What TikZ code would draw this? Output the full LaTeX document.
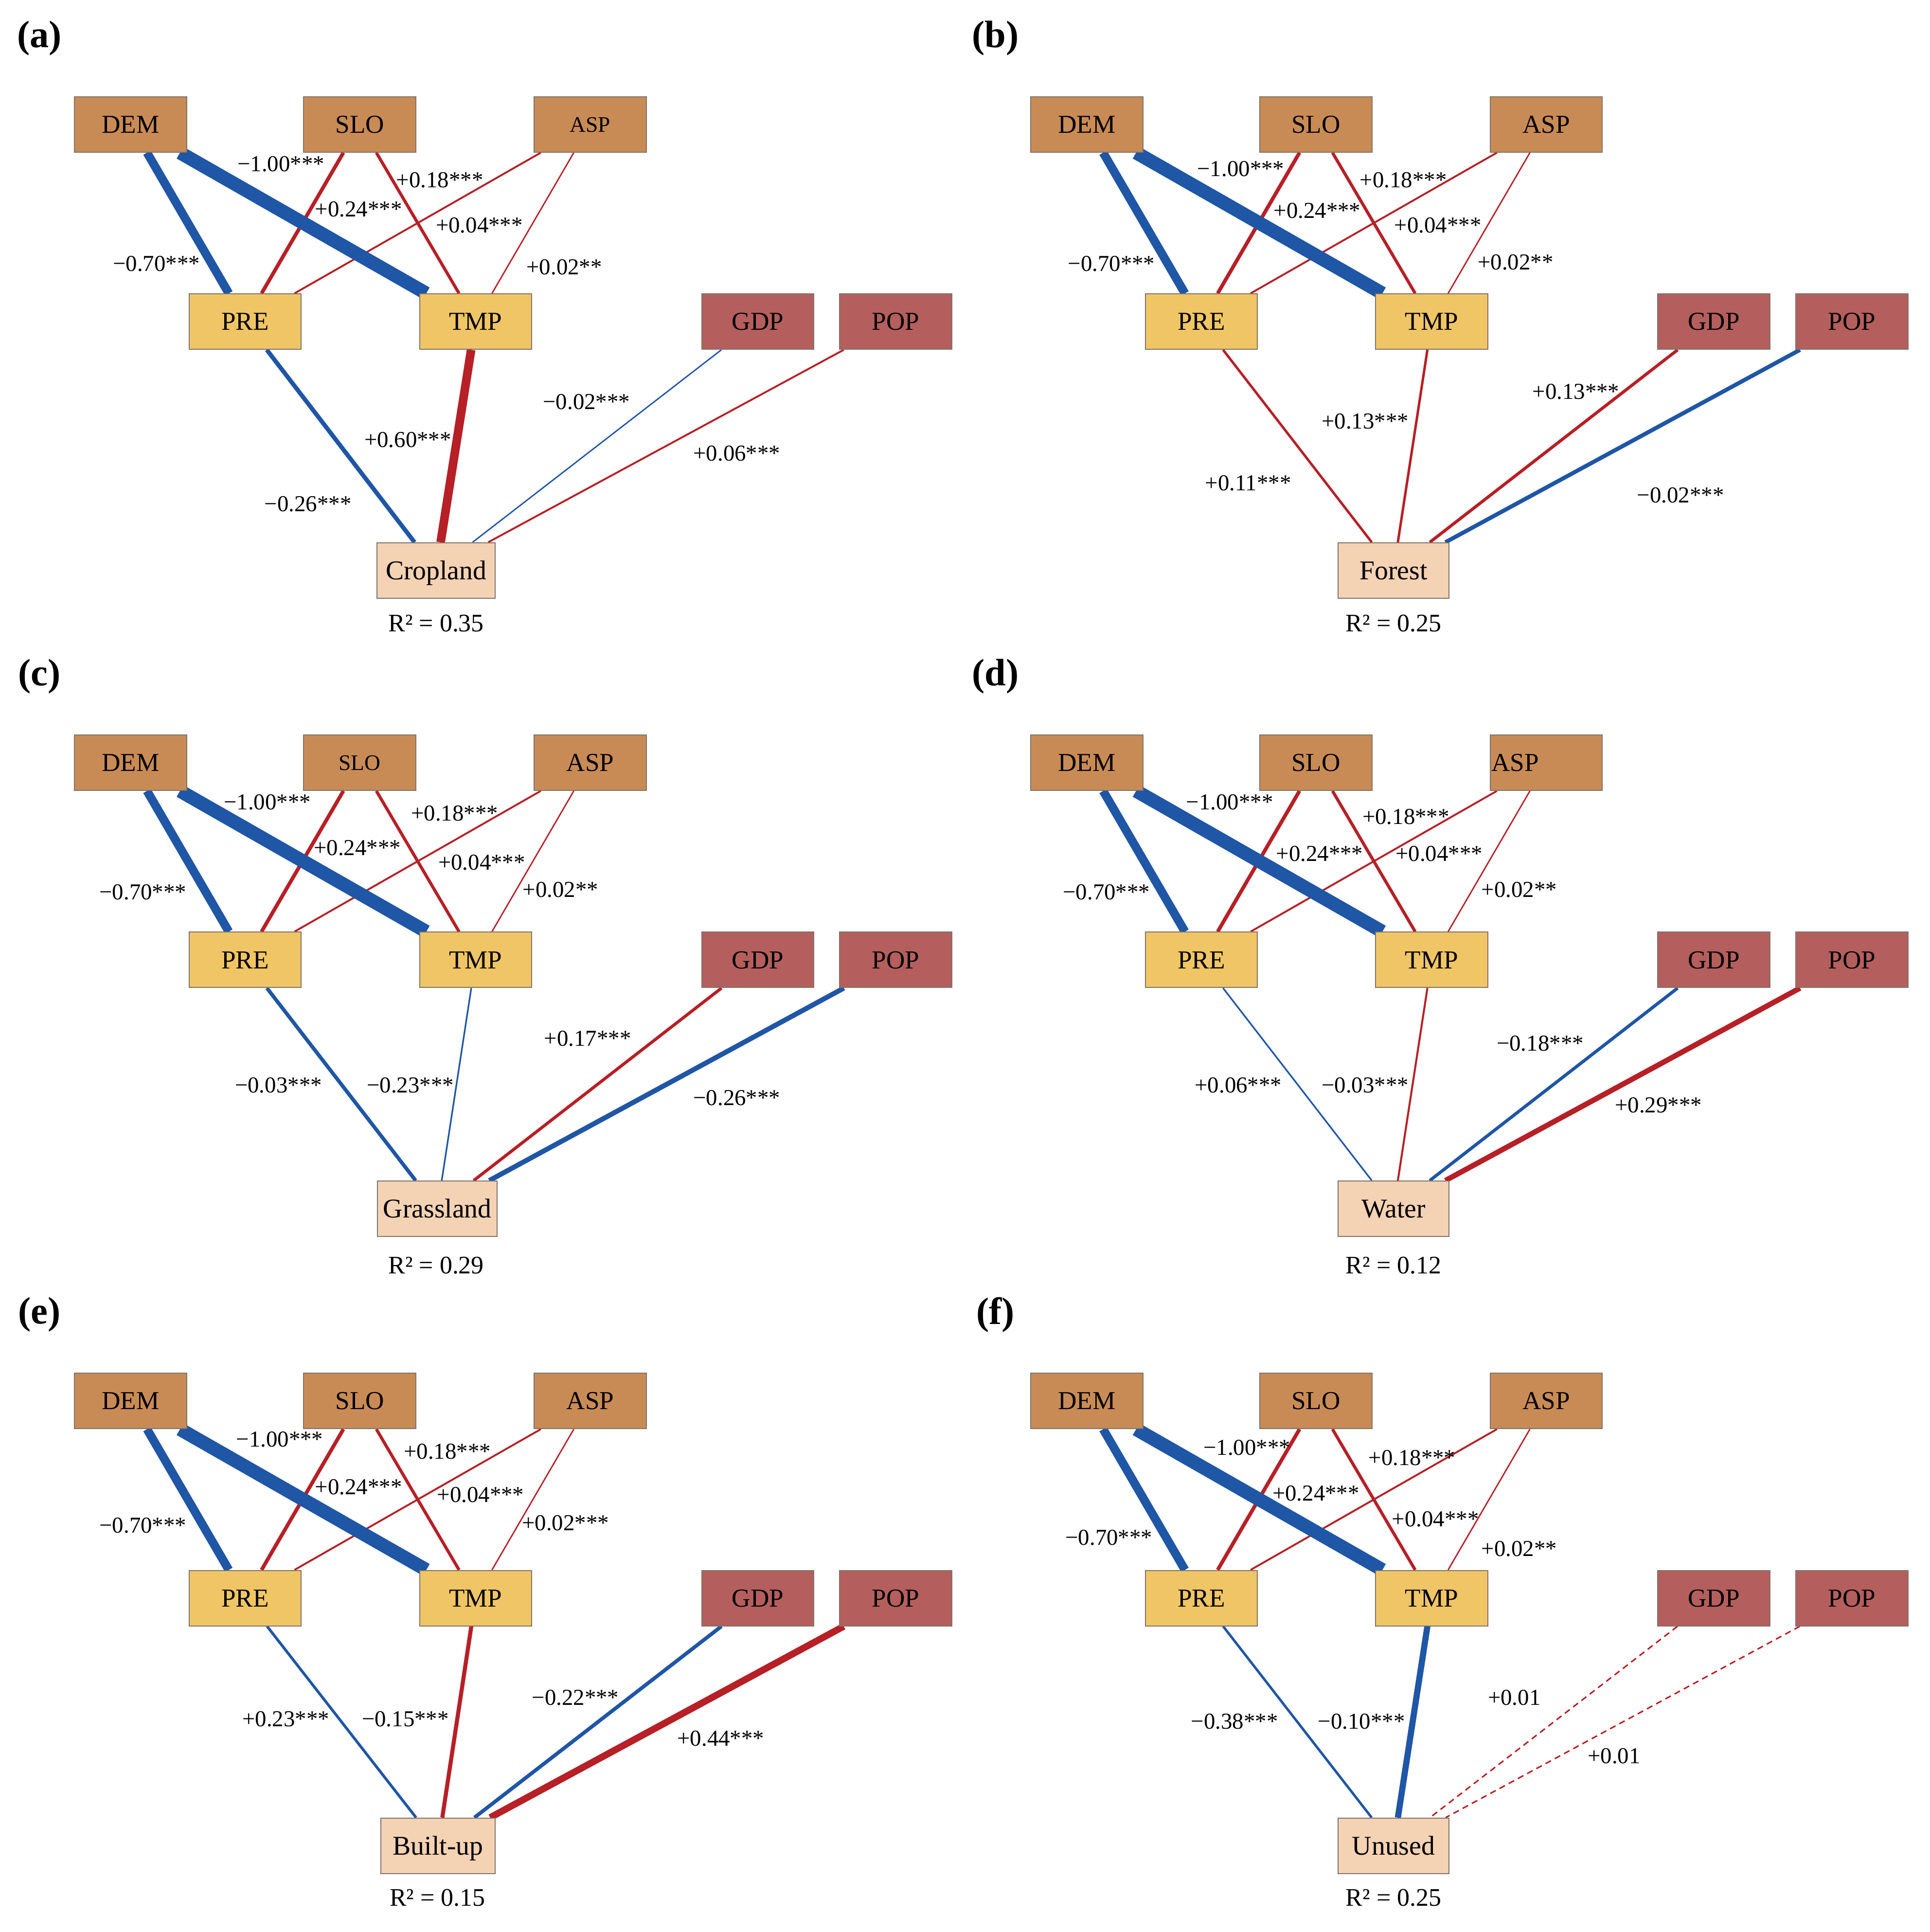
\documentclass[tikz,border=0pt]{standalone}
\usepackage{fontspec}
\setmainfont{Liberation Serif}
\usetikzlibrary{backgrounds}
\definecolor{cbrown}{RGB}{201,139,85}
\definecolor{cyellow}{RGB}{240,197,102}
\definecolor{cred}{RGB}{180,95,93}
\definecolor{cpeach}{RGB}{244,210,180}
\definecolor{boxline}{RGB}{125,115,105}
\definecolor{cblue}{RGB}{31,86,165}
\definecolor{cdred}{RGB}{182,32,38}
\begin{document}
\begin{tikzpicture}[x=1pt,y=-1pt,
  topbox/.style={rectangle, draw=boxline, line width=0.8pt, minimum width=91pt, minimum height=45pt, inner sep=0pt, text height=14pt, text depth=0pt, font=\fontsize{21}{24}\selectfont},
  brownbox/.style={topbox, fill=cbrown},
  yellowbox/.style={topbox, fill=cyellow},
  redbox/.style={topbox, fill=cred},
  targetbox/.style={topbox, fill=cpeach, text height=14.6pt, font=\fontsize{22}{25}\selectfont},
  smallfont/.style={text height=12pt, font=\fontsize{18}{20}\selectfont},
  coef/.style={font=\fontsize{18.5}{20}\selectfont, inner sep=0pt},
  rsq/.style={font=\fontsize{20.5}{22}\selectfont, inner sep=0pt},
  plabel/.style={font=\fontsize{31}{34}\selectfont\bfseries, inner sep=0pt},
  neglink/.style={draw=cblue},
  poslink/.style={draw=cdred},
  insiglink/.style={draw=cdred, dash pattern=on 5pt off 3.5pt}
]
\useasboundingbox (0,0) rectangle (1566.4,1568);

% ---------------- (a)
\begin{scope}
\node[plabel] (alab) at (32,31) {(a)};
\node[brownbox] (aDEM) at (106,101) {DEM};
\node[brownbox] (aSLO) at (292,101) {SLO};
\node[brownbox, smallfont] (aASP) at (479,101) {ASP};
\node[yellowbox] (aPRE) at (199,261) {PRE};
\node[yellowbox] (aTMP) at (386,261) {TMP};
\node[redbox] (aGDP) at (615,261) {GDP};
\node[redbox] (aPOP) at (727,261) {POP};
\node[targetbox, minimum width=96pt] (aLU) at (354,463) {Cropland};
\node[rsq] (aR) at (354,506) {R² = 0.35};
\begin{pgfonlayer}{background}
\draw[poslink, line width=1.5pt] (aASP) -- (aPRE);
\draw[poslink, line width=1.1pt] (aASP) -- (aTMP);
\draw[poslink, line width=3pt] (aSLO) -- (aPRE);
\draw[poslink, line width=2.5pt] (aSLO) -- (aTMP);
\draw[neglink, line width=7pt] (aDEM) -- (aPRE);
\draw[neglink, line width=11pt] (aDEM) -- (aTMP);
\draw[neglink, line width=3.5pt] (aPRE) -- (aLU);
\draw[poslink, line width=7pt] (aTMP) -- (aLU);
\draw[neglink, line width=1.1pt] (aGDP) -- (aLU);
\draw[poslink, line width=1.5pt] (aPOP) -- (aLU);
\end{pgfonlayer}
\node[coef] (a1) at (127,214) {−0.70***};
\node[coef] (a2) at (228,133) {−1.00***};
\node[coef] (a3) at (291,170) {+0.24***};
\node[coef] (a4) at (357,146) {+0.18***};
\node[coef] (a5) at (389,183) {+0.04***};
\node[coef] (a6) at (458,217) {+0.02**};
\node[coef] (a7) at (250,409) {−0.26***};
\node[coef] (a8) at (331,357) {+0.60***};
\node[coef] (a9) at (476,326) {−0.02***};
\node[coef] (a10) at (598,368) {+0.06***};
\end{scope}

% ---------------- (b)
\begin{scope}[shift={(776,0)}]
\node[plabel] (blab) at (32,31) {(b)};
\node[brownbox] (bDEM) at (106,101) {DEM};
\node[brownbox] (bSLO) at (292,101) {SLO};
\node[brownbox] (bASP) at (479,101) {ASP};
\node[yellowbox] (bPRE) at (199,261) {PRE};
\node[yellowbox] (bTMP) at (386,261) {TMP};
\node[redbox] (bGDP) at (615,261) {GDP};
\node[redbox] (bPOP) at (727,261) {POP};
\node[targetbox, minimum width=90pt] (bLU) at (355,463) {Forest};
\node[rsq] (bR) at (355,506) {R² = 0.25};
\begin{pgfonlayer}{background}
\draw[poslink, line width=1.5pt] (bASP) -- (bPRE);
\draw[poslink, line width=1.1pt] (bASP) -- (bTMP);
\draw[poslink, line width=3pt] (bSLO) -- (bPRE);
\draw[poslink, line width=2.5pt] (bSLO) -- (bTMP);
\draw[neglink, line width=7pt] (bDEM) -- (bPRE);
\draw[neglink, line width=11pt] (bDEM) -- (bTMP);
\draw[poslink, line width=2pt] (bPRE) -- (bLU);
\draw[poslink, line width=2pt] (bTMP) -- (bLU);
\draw[poslink, line width=2.5pt] (bGDP) -- (bLU);
\draw[neglink, line width=3.3pt] (bPOP) -- (bLU);
\end{pgfonlayer}
\node[coef] (b1) at (126,214) {−0.70***};
\node[coef] (b2) at (231,137) {−1.00***};
\node[coef] (b3) at (293,171) {+0.24***};
\node[coef] (b4) at (363,146) {+0.18***};
\node[coef] (b5) at (391,183) {+0.04***};
\node[coef] (b6) at (454,213) {+0.02**};
\node[coef] (b7) at (237,392) {+0.11***};
\node[coef] (b8) at (332,342) {+0.13***};
\node[coef] (b9) at (503,318) {+0.13***};
\node[coef] (b10) at (588,402) {−0.02***};
\end{scope}

% ---------------- (c)
\begin{scope}[shift={(0,518)}]
\node[plabel] (clab) at (32,31) {(c)};
\node[brownbox] (cDEM) at (106,101) {DEM};
\node[brownbox, smallfont] (cSLO) at (292,101) {SLO};
\node[brownbox] (cASP) at (479,101) {ASP};
\node[yellowbox] (cPRE) at (199,261) {PRE};
\node[yellowbox] (cTMP) at (386,261) {TMP};
\node[redbox] (cGDP) at (615,261) {GDP};
\node[redbox] (cPOP) at (727,261) {POP};
\node[targetbox, minimum width=97pt] (cLU) at (355,463) {Grassland};
\node[rsq] (cR) at (354,509) {R² = 0.29};
\begin{pgfonlayer}{background}
\draw[poslink, line width=1.5pt] (cASP) -- (cPRE);
\draw[poslink, line width=1.1pt] (cASP) -- (cTMP);
\draw[poslink, line width=3pt] (cSLO) -- (cPRE);
\draw[poslink, line width=2.5pt] (cSLO) -- (cTMP);
\draw[neglink, line width=7pt] (cDEM) -- (cPRE);
\draw[neglink, line width=11pt] (cDEM) -- (cTMP);
\draw[neglink, line width=3pt] (cPRE) -- (cLU);
\draw[neglink, line width=1.3pt] (cTMP) -- (cLU);
\draw[poslink, line width=2.5pt] (cGDP) -- (cLU);
\draw[neglink, line width=4pt] (cPOP) -- (cLU);
\end{pgfonlayer}
\node[coef] (c1) at (116,206) {−0.70***};
\node[coef] (c2) at (217,133) {−1.00***};
\node[coef] (c3) at (290,170) {+0.24***};
\node[coef] (c4) at (369,142) {+0.18***};
\node[coef] (c5) at (391,182) {+0.04***};
\node[coef] (c6) at (455,204) {+0.02**};
\node[coef] (c7) at (226,363) {−0.03***};
\node[coef] (c8) at (333,363) {−0.23***};
\node[coef] (c9) at (477,325) {+0.17***};
\node[coef] (c10) at (598,373) {−0.26***};
\end{scope}

% ---------------- (d)
\begin{scope}[shift={(776,518)}]
\node[plabel] (dlab) at (32,31) {(d)};
\node[brownbox] (dDEM) at (106,101) {DEM};
\node[brownbox] (dSLO) at (292,101) {SLO};
\node[brownbox] (dASP) at (479,101) {\makebox[89pt][l]{ASP}};
\node[yellowbox] (dPRE) at (199,261) {PRE};
\node[yellowbox] (dTMP) at (386,261) {TMP};
\node[redbox] (dGDP) at (615,261) {GDP};
\node[redbox] (dPOP) at (727,261) {POP};
\node[targetbox, minimum width=90pt] (dLU) at (355,463) {Water};
\node[rsq] (dR) at (355,509) {R² = 0.12};
\begin{pgfonlayer}{background}
\draw[poslink, line width=1.5pt] (dASP) -- (dPRE);
\draw[poslink, line width=1.1pt] (dASP) -- (dTMP);
\draw[poslink, line width=3pt] (dSLO) -- (dPRE);
\draw[poslink, line width=2.5pt] (dSLO) -- (dTMP);
\draw[neglink, line width=7pt] (dDEM) -- (dPRE);
\draw[neglink, line width=11pt] (dDEM) -- (dTMP);
\draw[neglink, line width=1.3pt] (dPRE) -- (dLU);
\draw[poslink, line width=1.6pt] (dTMP) -- (dLU);
\draw[neglink, line width=2.6pt] (dGDP) -- (dLU);
\draw[poslink, line width=4.3pt] (dPOP) -- (dLU);
\end{pgfonlayer}
\node[coef] (d1) at (122,206) {−0.70***};
\node[coef] (d2) at (222,133) {−1.00***};
\node[coef] (d3) at (295,175) {+0.24***};
\node[coef] (d4) at (365,145) {+0.18***};
\node[coef] (d5) at (392,175) {+0.04***};
\node[coef] (d6) at (457,204) {+0.02**};
\node[coef] (d7) at (229,363) {+0.06***};
\node[coef] (d8) at (332,363) {−0.03***};
\node[coef] (d9) at (474,329) {−0.18***};
\node[coef] (d10) at (570,379) {+0.29***};
\end{scope}

% ---------------- (e)
\begin{scope}[shift={(0,1036)}]
\node[plabel] (elab) at (32,31) {(e)};
\node[brownbox] (eDEM) at (106,101) {DEM};
\node[brownbox] (eSLO) at (292,101) {SLO};
\node[brownbox] (eASP) at (479,101) {ASP};
\node[yellowbox] (ePRE) at (199,261) {PRE};
\node[yellowbox] (eTMP) at (386,261) {TMP};
\node[redbox] (eGDP) at (615,261) {GDP};
\node[redbox] (ePOP) at (727,261) {POP};
\node[targetbox, minimum width=93pt] (eLU) at (355.5,462) {Built-up};
\node[rsq] (eR) at (355,504) {R² = 0.15};
\begin{pgfonlayer}{background}
\draw[poslink, line width=1.5pt] (eASP) -- (ePRE);
\draw[poslink, line width=1.1pt] (eASP) -- (eTMP);
\draw[poslink, line width=3pt] (eSLO) -- (ePRE);
\draw[poslink, line width=2.5pt] (eSLO) -- (eTMP);
\draw[neglink, line width=7pt] (eDEM) -- (ePRE);
\draw[neglink, line width=11pt] (eDEM) -- (eTMP);
\draw[neglink, line width=2.2pt] (ePRE) -- (eLU);
\draw[poslink, line width=3.3pt] (eTMP) -- (eLU);
\draw[neglink, line width=3pt] (eGDP) -- (eLU);
\draw[poslink, line width=5.5pt] (ePOP) -- (eLU);
\end{pgfonlayer}
\node[coef] (e1) at (116,202) {−0.70***};
\node[coef] (e2) at (227,132) {−1.00***};
\node[coef] (e3) at (291,171) {+0.24***};
\node[coef] (e4) at (363,142) {+0.18***};
\node[coef] (e5) at (390,177) {+0.04***};
\node[coef] (e6) at (459,200) {+0.02***};
\node[coef] (e7) at (232,359) {+0.23***};
\node[coef] (e8) at (329,359) {−0.15***};
\node[coef] (e9) at (467,342) {−0.22***};
\node[coef] (e10) at (585,375) {+0.44***};
\end{scope}

% ---------------- (f)
\begin{scope}[shift={(776,1036)}]
\node[plabel] (flab) at (32,31) {(f)};
\node[brownbox] (fDEM) at (106,101) {DEM};
\node[brownbox] (fSLO) at (292,101) {SLO};
\node[brownbox] (fASP) at (479,101) {ASP};
\node[yellowbox] (fPRE) at (199,261) {PRE};
\node[yellowbox] (fTMP) at (386,261) {TMP};
\node[redbox] (fGDP) at (615,261) {GDP};
\node[redbox] (fPOP) at (727,261) {POP};
\node[targetbox, minimum width=90pt] (fLU) at (355,462) {Unused};
\node[rsq] (fR) at (355,504) {R² = 0.25};
\begin{pgfonlayer}{background}
\draw[poslink, line width=1.5pt] (fASP) -- (fPRE);
\draw[poslink, line width=1.1pt] (fASP) -- (fTMP);
\draw[poslink, line width=3pt] (fSLO) -- (fPRE);
\draw[poslink, line width=2.5pt] (fSLO) -- (fTMP);
\draw[neglink, line width=7pt] (fDEM) -- (fPRE);
\draw[neglink, line width=11pt] (fDEM) -- (fTMP);
\draw[neglink, line width=2pt] (fPRE) -- (fLU);
\draw[neglink, line width=5pt] (fTMP) -- (fLU);
\draw[insiglink, line width=1.2pt] (fGDP) -- (fLU);
\draw[insiglink, line width=1.2pt] (fPOP) -- (fLU);
\end{pgfonlayer}
\node[coef] (f1) at (124,212) {−0.70***};
\node[coef] (f2) at (236,139) {−1.00***};
\node[coef] (f3) at (292,176) {+0.24***};
\node[coef] (f4) at (370,147) {+0.18***};
\node[coef] (f5) at (389,197) {+0.04***};
\node[coef] (f6) at (457,221) {+0.02**};
\node[coef] (f7) at (226,361) {−0.38***};
\node[coef] (f8) at (329,361) {−0.10***};
\node[coef] (f9) at (453,342) {+0.01};
\node[coef] (f10) at (534,389) {+0.01};
\end{scope}
\end{tikzpicture}
\end{document}
